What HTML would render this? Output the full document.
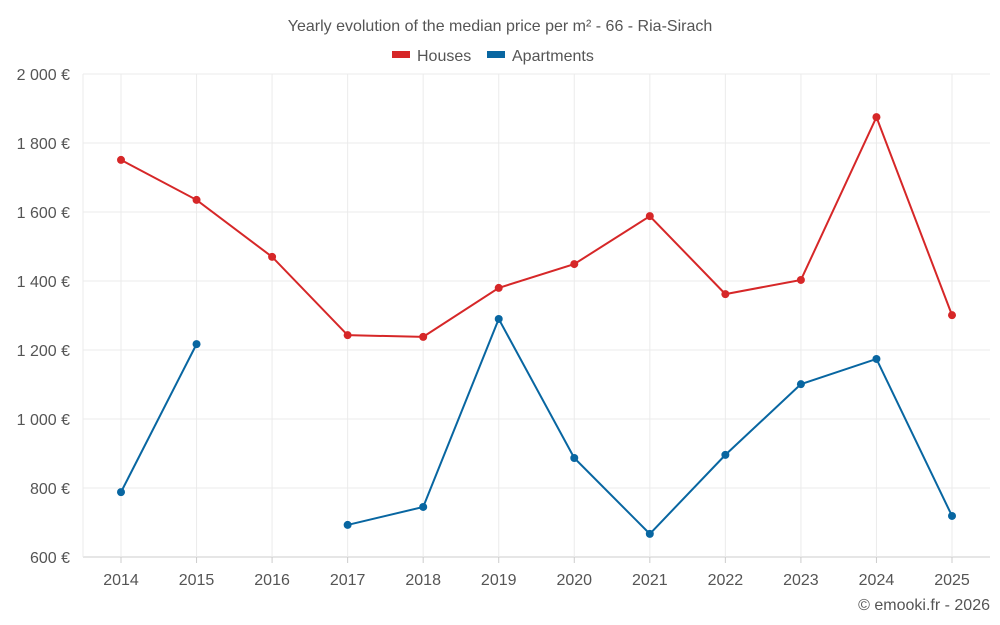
<!DOCTYPE html>
<html><head><meta charset="utf-8">
<style>
html,body{margin:0;padding:0;background:#fff;}
svg{display:block;font-family:"Liberation Sans",sans-serif;}
</style></head>
<body>
<svg id="chart" width="1000" height="625" viewBox="0 0 1000 625">
<text x="500" y="31" text-anchor="middle" font-size="16" fill="#555">Yearly evolution of the median price per m² - 66 - Ria-Sirach</text>
<g>
 <g><rect x="392" y="51" width="18" height="7" fill="#d62728"/><text x="417" y="61" font-size="16" fill="#555">Houses</text></g>
 <g><rect x="487" y="51" width="18" height="7" fill="#0866a1"/><text x="512" y="61" font-size="16" fill="#555">Apartments</text></g>
</g>
<g id="grid"></g><g id="axes"></g><g id="series"></g>
<text x="990" y="610" text-anchor="end" font-size="16" fill="#555">© emooki.fr - 2026</text>
</svg>
<script>
const years=[2014,2015,2016,2017,2018,2019,2020,2021,2022,2023,2024,2025];
const houses=[1751,1635,1470,1243,1238,1380,1449,1588,1362,1403,1875,1301];
const apartments=[788,1217,null,693,745,1290,887,667,896,1101,1174,719];
const yTicks=[600,800,1000,1200,1400,1600,1800,2000];
const yTickLabels=["600 €","800 €","1 000 €","1 200 €","1 400 €","1 600 €","1 800 €","2 000 €"];
const NS="http://www.w3.org/2000/svg";
const L=83,R=990,T=74,B=557,yMin=600,yMax=2000;
function x(i){return 121+i*(952-121)/(years.length-1);}
function y(v){return B-(v-yMin)/(yMax-yMin)*(B-T);}
function mk(tag,attrs,parent){const e=document.createElementNS(NS,tag);for(const k in attrs)e.setAttribute(k,attrs[k]);parent.appendChild(e);return e;}
const grid=document.getElementById('grid'),axes=document.getElementById('axes'),series=document.getElementById('series');
yTicks.forEach((v,i)=>{
 const l=mk('line',{x1:L,x2:R,y1:y(v),y2:y(v),stroke:i==0?'#ccc':'#ebebeb','stroke-width':1},grid);
 
 
 const t=mk('text',{x:70,y:y(v)+6,'text-anchor':'end','font-size':16,fill:'#555'},axes);
 t.textContent=yTickLabels[i];
 
 
});
years.forEach((yr,i)=>{
 const l=mk('line',{x1:x(i),x2:x(i),y1:T,y2:B,stroke:'#ebebeb','stroke-width':1},grid);
 
 
 const tk=mk('line',{x1:x(i),x2:x(i),y1:B,y2:B+6,stroke:'#ccc'},axes);
 
 
 const t=mk('text',{x:x(i),y:585,'text-anchor':'middle','font-size':16,fill:'#555'},axes);
 t.textContent=yr;
 
 
});
const vl=mk('line',{x1:L,x2:L,y1:T,y2:B,stroke:'#ebebeb'},grid);


function draw(vals,color,name){
 let segs=[],cur=[];
 vals.forEach((v,i)=>{if(v==null){if(cur.length)segs.push(cur);cur=[];}else cur.push([x(i),y(v)]);});
 if(cur.length)segs.push(cur);
 segs.forEach(s=>{if(s.length>1){
  const p=mk('polyline',{points:s.map(q=>q.join(',')).join(' '),fill:'none',stroke:color,'stroke-width':2},series);
  
  
 }});
 vals.forEach((v,i)=>{if(v==null)return;
  const c=mk('circle',{cx:x(i),cy:y(v),r:4,fill:color},series);
  
  
 });
}
draw(houses,'#d62728','houses');
draw(apartments,'#0866a1','apartments');
</script>
</body></html>
